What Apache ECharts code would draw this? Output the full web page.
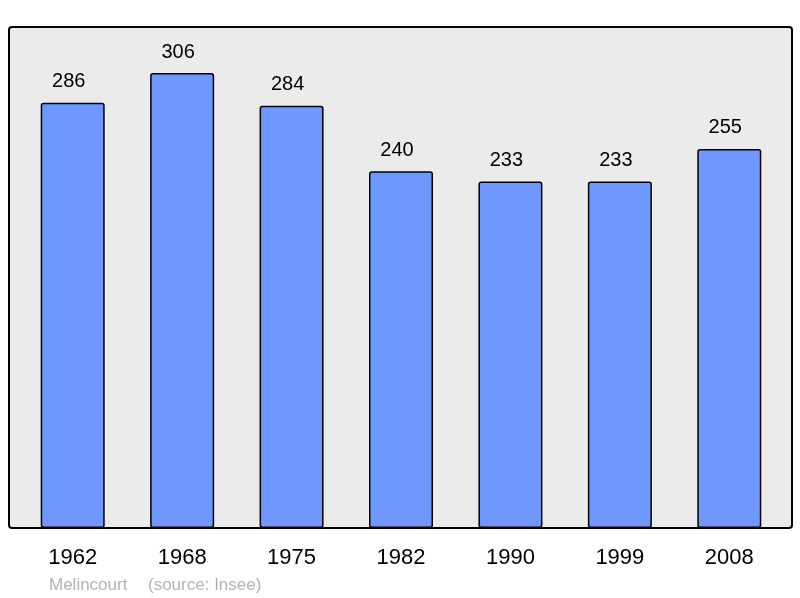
<!DOCTYPE html>
<html>
<head>
<meta charset="utf-8">
<script src="https://cdn.jsdelivr.net/npm/echarts@6/dist/echarts.min.js"></script>
<style>
	html, body { margin: 0; padding: 0; background: #fff; }
	#chart { width: 800px; height: 598px; }
</style>
</head>
<body>
<div id="chart"></div>
<script>
var years = ['1962', '1968', '1975', '1982', '1990', '1999', '2008'];
var population = [286, 306, 284, 240, 233, 233, 255];
var townName = 'Melincourt';
var sourceText = '(source: Insee)';

var chart = echarts.init(document.getElementById('chart'));
var option = {
	animation: false,
	graphic: [{
		type: 'rect',
		z: -1,
		shape: { x: 9, y: 27, width: 783, height: 501, r: 3 },
		style: { fill: '#ebebeb', stroke: '#000', lineWidth: 2 }
	}, {
		type: 'text',
		left: 49,
		top: 577,
		style: { text: townName, fill: '#b3b3b3', font: '17px "Liberation Sans", Arial, sans-serif' }
	}, {
		type: 'text',
		left: 148,
		top: 577,
		style: { text: sourceText, fill: '#b3b3b3', font: '17px "Liberation Sans", Arial, sans-serif' }
	}],
	grid: {
		left: 18,
		right: 16,
		top: 27,
		bottom: 70
	},
	xAxis: {
		type: 'category',
		data: years,
		axisLine: { show: false },
		axisTick: { show: false },
		axisLabel: {
			color: '#000',
			fontSize: 22,
			margin: 19,
			fontFamily: '"Liberation Sans", Arial, sans-serif'
		}
	},
	yAxis: {
		type: 'value',
		min: 0,
		max: 337,
		show: false,
		splitLine: { show: false }
	},
	series: [{
		type: 'bar',
		data: population,
		barWidth: 64,
		itemStyle: {
			color: '#6f98ff',
			borderColor: '#000',
			borderWidth: 1.5,
			borderRadius: 2
		},
		label: {
			show: true,
			position: 'top',
			distance: 11,
			offset: [-4, 0],
			color: '#000',
			fontSize: 20,
			fontFamily: '"Liberation Sans", Arial, sans-serif'
		}
	}]
};
chart.setOption(option);
</script>
</body>
</html>
